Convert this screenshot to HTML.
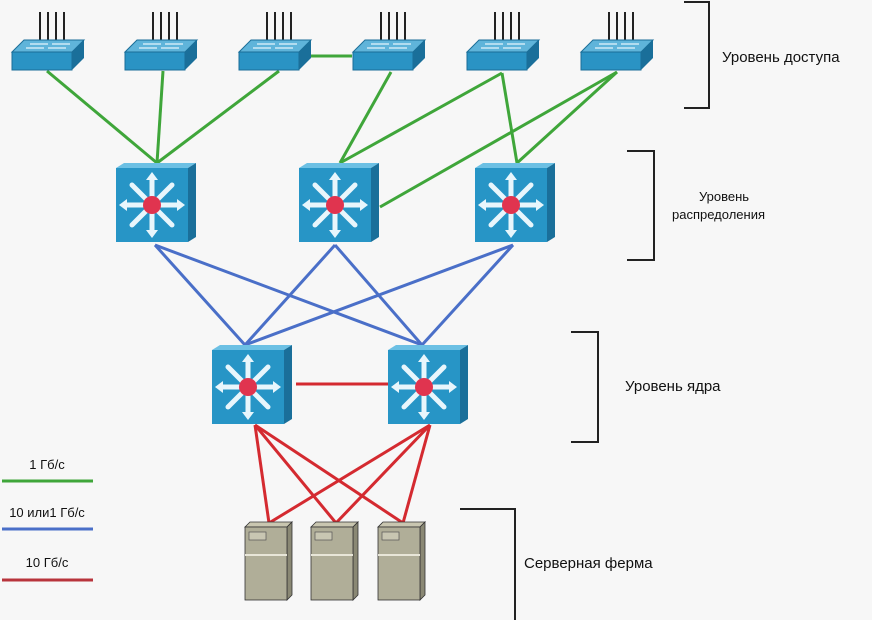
<!DOCTYPE html>
<html><head><meta charset="utf-8"><style>
html,body{margin:0;padding:0;background:#f7f7f7;}
svg{display:block;font-family:"Liberation Sans",sans-serif;}
</style></head><body>
<svg width="872" height="620" viewBox="0 0 872 620" xmlns="http://www.w3.org/2000/svg">
<defs>
<g id="sw">
 <line x1="28" y1="-28" x2="28" y2="0" stroke="#222" stroke-width="2"/>
 <line x1="36" y1="-28" x2="36" y2="0" stroke="#222" stroke-width="2"/>
 <line x1="44" y1="-28" x2="44" y2="0" stroke="#222" stroke-width="2"/>
 <line x1="52" y1="-28" x2="52" y2="0" stroke="#222" stroke-width="2"/>
 <polygon points="12,0 72,0 60,12 0,12" fill="#5fb4da" stroke="#1b6e98"/>
 <rect x="0" y="12" width="60" height="18" fill="#2a93c4" stroke="#1b6e98"/>
 <polygon points="60,12 72,0 72,18 60,30" fill="#1a6f9a"/>
 <path d="M18,4 h18 M40,4 h18 M14,8 h18 M36,8 h18" stroke="#cde9f6" stroke-width="1.5"/>
</g>
<g id="ml">
 <polygon points="0,5 8,0 80,0 72,5" fill="#6cc0e4"/>
 <polygon points="72,5 80,0 80,74 72,79" fill="#1a6f9a"/>
 <rect x="0" y="5" width="72" height="74" fill="#2795c6"/>
 <g stroke="#e8f6fc" stroke-width="5" stroke-linecap="round">
  <line x1="36" y1="42" x2="36" y2="14"/><line x1="36" y1="42" x2="36" y2="70"/>
  <line x1="36" y1="42" x2="8" y2="42"/><line x1="36" y1="42" x2="64" y2="42"/>
  <line x1="36" y1="42" x2="16" y2="22"/><line x1="36" y1="42" x2="56" y2="22"/>
  <line x1="36" y1="42" x2="16" y2="62"/><line x1="36" y1="42" x2="56" y2="62"/>
 </g>
 <g fill="#e8f6fc">
  <polygon points="36,9 30,17 42,17"/><polygon points="36,75 30,67 42,67"/>
  <polygon points="3,42 11,36 11,48"/><polygon points="69,42 61,36 61,48"/>
 </g>
 <circle cx="36" cy="42" r="9" fill="#e0344f"/>
</g>
<g id="srv">
 <polygon points="0,5 5,0 47,0 42,5" fill="#c9c6b0" stroke="#333" stroke-width="0.8"/>
 <polygon points="42,5 47,0 47,73 42,78" fill="#8a8874" stroke="#333" stroke-width="0.8"/>
 <rect x="0" y="5" width="42" height="73" fill="#b0ae98" stroke="#333" stroke-width="0.8"/>
 <rect x="4" y="10" width="17" height="8" fill="#c8c6b2" stroke="#555" stroke-width="0.7"/>
 <line x1="0" y1="33" x2="42" y2="33" stroke="#e8e6d8" stroke-width="2"/>
</g>
</defs>

<!-- green -->
<g stroke="#3fa63a" stroke-width="3" fill="none">
 <line x1="47" y1="71" x2="157" y2="163"/>
 <line x1="163" y1="71" x2="157" y2="163"/>
 <line x1="279" y1="71" x2="157" y2="163"/>
 <line x1="308" y1="56" x2="352" y2="56"/>
 <line x1="391" y1="72" x2="340" y2="163"/>
 <line x1="502" y1="73" x2="340" y2="163"/>
 <line x1="502" y1="73" x2="517" y2="163"/>
 <line x1="617" y1="72" x2="380" y2="207"/>
 <line x1="617" y1="72" x2="517" y2="163"/>
</g>
<!-- blue -->
<g stroke="#4a6fc8" stroke-width="3">
 <line x1="155" y1="245" x2="245" y2="345"/>
 <line x1="155" y1="245" x2="422" y2="345"/>
 <line x1="335" y1="245" x2="245" y2="345"/>
 <line x1="335" y1="245" x2="422" y2="345"/>
 <line x1="513" y1="245" x2="245" y2="345"/>
 <line x1="513" y1="245" x2="422" y2="345"/>
</g>
<!-- red -->
<g stroke="#d42a30" stroke-width="3">
 <line x1="296" y1="384" x2="388" y2="384"/>
 <line x1="255" y1="425" x2="269" y2="523"/>
 <line x1="255" y1="425" x2="336" y2="523"/>
 <line x1="255" y1="425" x2="403" y2="523"/>
 <line x1="430" y1="425" x2="269" y2="523"/>
 <line x1="430" y1="425" x2="336" y2="523"/>
 <line x1="430" y1="425" x2="403" y2="523"/>
</g>

<use href="#sw" x="12" y="40"/>
<use href="#sw" x="125" y="40"/>
<use href="#sw" x="239" y="40"/>
<use href="#sw" x="353" y="40"/>
<use href="#sw" x="467" y="40"/>
<use href="#sw" x="581" y="40"/>

<use href="#ml" x="116" y="163"/>
<use href="#ml" x="299" y="163"/>
<use href="#ml" x="475" y="163"/>
<use href="#ml" x="212" y="345"/>
<use href="#ml" x="388" y="345"/>

<use href="#srv" x="245" y="522"/>
<use href="#srv" x="311" y="522"/>
<use href="#srv" x="378" y="522"/>

<!-- brackets -->
<g stroke="#222" stroke-width="2" fill="none">
 <polyline points="684,2 709,2 709,108 684,108"/>
 <polyline points="627,151 654,151 654,260 627,260"/>
 <polyline points="571,332 598,332 598,442 571,442"/>
 <polyline points="460,509 515,509 515,620"/>
</g>
<g fill="#111">
 <text x="722" y="62" font-size="15">Уровень доступа</text>
 <text x="699" y="201" font-size="13">Уровень</text>
 <text x="672" y="219" font-size="13">распредоления</text>
 <text x="625" y="391" font-size="15">Уровень ядра</text>
 <text x="524" y="568" font-size="15">Серверная ферма</text>
 <text x="47" y="469" font-size="13" text-anchor="middle">1 Гб/с</text>
 <text x="47" y="517" font-size="13" text-anchor="middle">10 или1 Гб/с</text>
 <text x="47" y="567" font-size="13" text-anchor="middle">10 Гб/с</text>
</g>
<line x1="2" y1="481" x2="93" y2="481" stroke="#3fa63a" stroke-width="3"/>
<line x1="2" y1="529" x2="93" y2="529" stroke="#4a6fc8" stroke-width="3"/>
<line x1="2" y1="580" x2="93" y2="580" stroke="#b8343c" stroke-width="3"/>
</svg>
</body></html>
